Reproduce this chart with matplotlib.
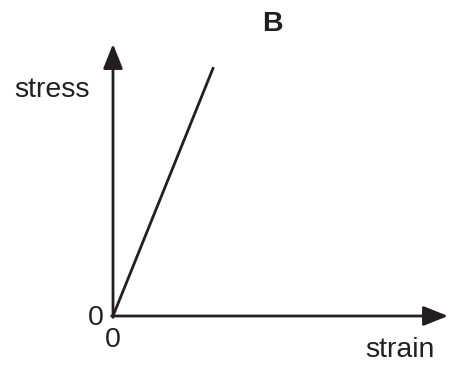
import matplotlib
matplotlib.use("Agg")
import matplotlib.pyplot as plt

plt.rcParams['font.family'] = ['Liberation Sans', 'DejaVu Sans']

# line data (arbitrary units, axes run 0..1)
strain = [0.0, 0.30]
stress = [0.0, 0.915]
ink = '#231f20'

fig = plt.figure(figsize=(4.53, 3.68), dpi=100)
ax = fig.add_axes([113/453, 52/368, 335/453, 272/368])
ax.set_xlim(0, 1)
ax.set_ylim(0, 1)
ax.axis('off')

# axes with arrow heads
arrow = dict(arrowstyle='-|>,head_length=0.75,head_width=0.3', lw=2.0,
             color=ink, shrinkA=0, shrinkB=0, mutation_scale=20)
ax.annotate('', xy=(1.0, 0), xytext=(-0.004, 0), arrowprops=arrow,
            annotation_clip=False)
ax.annotate('', xy=(0, 1.0), xytext=(0, -0.005), arrowprops=arrow,
            annotation_clip=False)

ax.plot(strain, stress, color=ink, lw=2.0, solid_capstyle='butt', clip_on=False)

fs = 20.5
ax.text(-0.181, 0.831, 'stress', fontsize=fs, ha='center', va='center', color=ink)
ax.text(0.857, -0.125, 'strain', fontsize=fs, ha='center', va='center', color=ink)
ax.text(0.475, 1.075, 'B', fontsize=fs, fontweight='bold', ha='center', va='center', color=ink)
ax.text(-0.051, -0.007, '0', fontsize=fs, ha='center', va='center', color=ink)
ax.text(-0.001, -0.088, '0', fontsize=fs, ha='center', va='center', color=ink)

plt.savefig("out.png", dpi=100)
